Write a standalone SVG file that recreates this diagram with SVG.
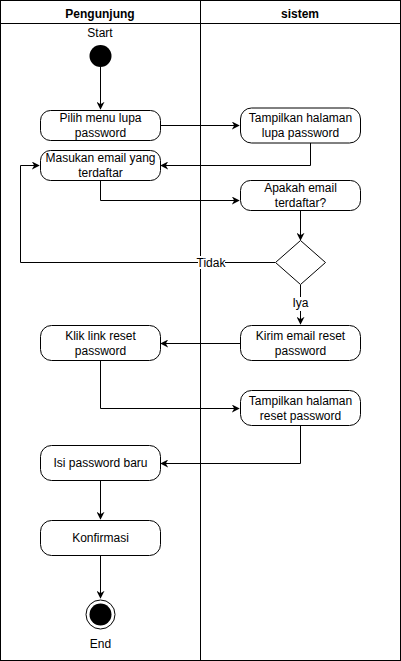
<svg xmlns="http://www.w3.org/2000/svg" width="401" height="661" viewBox="0 0 401 661">
<defs>
<style>
text{font-family:"Liberation Sans",Arial,sans-serif;font-size:12px;fill:#000;text-anchor:middle}
.hd{font-weight:bold}
.act{fill:#fff;stroke:#000;stroke-width:1}
.ln{fill:none;stroke:#000;stroke-width:1}
.lbl{fill:#fff}
</style>
<marker id="ar" viewBox="0 0 10 10" refX="9" refY="5" markerWidth="8" markerHeight="8" markerUnits="userSpaceOnUse" orient="auto">
<path d="M0,0 L10,5 L0,10 L3,5 Z" fill="#000"/>
</marker>
</defs>
<rect width="401" height="661" fill="#fff"/>
<g id="lanes">
<rect x="0.5" y="0.5" width="400" height="660" fill="none" stroke="#000"/>
<line x1="0.5" y1="23.5" x2="400.5" y2="23.5" stroke="#000"/>
<line x1="200.5" y1="0.5" x2="200.5" y2="660.5" stroke="#000"/>
<text class="hd" x="100" y="18">Pengunjung</text>
<text class="hd" x="300" y="18">sistem</text>
</g>
<g id="connectors">
<path class="ln" d="M100.5,67 V109" marker-end="url(#ar)"/>
<path class="ln" d="M160,125.5 H239" marker-end="url(#ar)"/>
<path class="ln" d="M310.5,143 V165.5 H161" marker-end="url(#ar)"/>
<path class="ln" d="M100.5,180 V200.5 H239" marker-end="url(#ar)"/>
<path class="ln" d="M300.5,210 V240" marker-end="url(#ar)"/>
<path class="ln" d="M275,262.5 H20.5 V165.5 H39" marker-end="url(#ar)"/>
<path class="ln" d="M300.5,285 V324" marker-end="url(#ar)"/>
<path class="ln" d="M240,343.5 H161" marker-end="url(#ar)"/>
<path class="ln" d="M100.5,360 V408.5 H239" marker-end="url(#ar)"/>
<path class="ln" d="M300.5,425 V463.5 H161" marker-end="url(#ar)"/>
<path class="ln" d="M100.5,480 V519" marker-end="url(#ar)"/>
<path class="ln" d="M100.5,555 V598" marker-end="url(#ar)"/>
<rect class="lbl" x="198" y="256" width="27" height="13"/>
<text x="211" y="266.5">Tidak</text>
<rect class="lbl" x="292" y="297" width="17" height="14"/>
<text x="300.5" y="307">Iya</text>
</g>
<g id="start">
<text x="100" y="37">Start</text>
<circle cx="100.5" cy="56" r="11" fill="#000"/>
</g>
<g id="pilih">
<rect class="act" x="40.5" y="110.5" width="120" height="30" rx="10"/>
<text x="100.5" y="122">Pilih menu lupa</text>
<text x="100.5" y="137">password</text>
</g>
<g id="tampil-lupa">
<rect class="act" x="240.5" y="108" width="120" height="35" rx="11"/>
<text x="300.5" y="122">Tampilkan halaman</text>
<text x="300.5" y="137">lupa password</text>
</g>
<g id="masukan">
<rect class="act" x="40.5" y="150.5" width="120" height="30" rx="10"/>
<text x="100.5" y="162">Masukan email yang</text>
<text x="100.5" y="177">terdaftar</text>
</g>
<g id="apakah">
<rect class="act" x="240.5" y="180.5" width="120" height="30" rx="10"/>
<text x="300.5" y="192">Apakah email</text>
<text x="300.5" y="207">terdaftar?</text>
</g>
<g id="decision">
<path class="act" d="M300.5,240.5 L325.5,262.5 L300.5,284.5 L275.5,262.5 Z"/>
</g>
<g id="kirim">
<rect class="act" x="240.5" y="325.5" width="120" height="35" rx="11"/>
<text x="300.5" y="340">Kirim email reset</text>
<text x="300.5" y="355">password</text>
</g>
<g id="klik">
<rect class="act" x="40.5" y="325.5" width="120" height="35" rx="11"/>
<text x="100.5" y="340">Klik link reset</text>
<text x="100.5" y="355">password</text>
</g>
<g id="tampil-reset">
<rect class="act" x="240.5" y="390.5" width="120" height="35" rx="11"/>
<text x="300.5" y="405">Tampilkan halaman</text>
<text x="300.5" y="420">reset password</text>
</g>
<g id="isi">
<rect class="act" x="40.5" y="445.5" width="120" height="35" rx="11"/>
<text x="100.5" y="467">Isi password baru</text>
</g>
<g id="konfirmasi">
<rect class="act" x="40.5" y="520.5" width="120" height="35" rx="11"/>
<text x="100.5" y="542">Konfirmasi</text>
</g>
<g id="end">
<circle cx="100.5" cy="614.5" r="14.5" fill="#fff" stroke="#000"/>
<circle cx="100.5" cy="614.5" r="11" fill="#000"/>
<text x="100.5" y="648">End</text>
</g>
</svg>
